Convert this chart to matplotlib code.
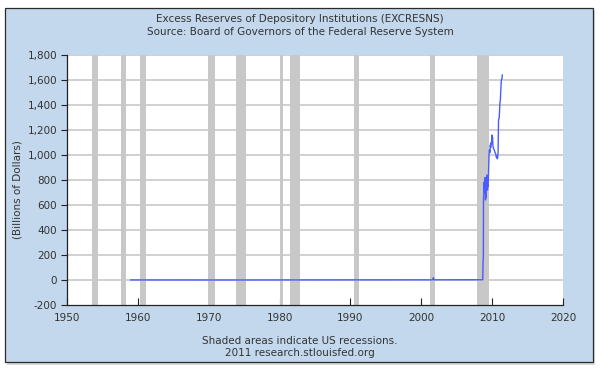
import numpy as np
import matplotlib
matplotlib.use('Agg')
import matplotlib.pyplot as plt
from matplotlib.patches import Rectangle
from matplotlib.ticker import FuncFormatter

# excess reserves, billions of dollars (decimal year, value)
years = [1959.0, 1962.0, 1966.0, 1970.0, 1975.0, 1980.0, 1985.0, 1990.0, 1995.0,
         2000.0, 2001.6, 2001.7, 2001.8, 2005.0, 2008.68,
         2008.72, 2008.76, 2008.78, 2008.82, 2008.86, 2008.90, 2008.94, 2008.98,
         2009.02, 2009.06, 2009.10, 2009.14, 2009.18, 2009.22, 2009.26, 2009.30,
         2009.34, 2009.38, 2009.42, 2009.46, 2009.50, 2009.56, 2009.62, 2009.68,
         2009.74, 2009.80, 2009.86, 2009.92, 2009.98, 2010.02, 2010.06, 2010.10,
         2010.20, 2010.30, 2010.40, 2010.50, 2010.60, 2010.66, 2010.72, 2010.78,
         2010.84, 2010.90, 2011.00, 2011.10, 2011.16, 2011.24, 2011.30, 2011.38,
         2011.44]
reserves = [0.5, 0.4, 0.3, 0.2, 0.2, 0.4, 0.8, 1.0, 1.1,
            1.2, 1.1, 19.0, 1.5, 1.7, 2.0,
            165, 170, 660, 680, 780, 700, 800, 760,
            820, 640, 700, 660, 780, 760, 840, 800,
            720, 760, 750, 800, 880, 1000, 1040, 1020,
            1080, 1060, 1100, 1090, 1160, 1120, 1140, 1080,
            1050, 1040, 1020, 1010, 980, 990, 970, 980,
            1020, 1280, 1300, 1420, 1440, 1540, 1600, 1610,
            1640]

# NBER recessions (start, end)
rec_start = [1953.5, 1957.6, 1960.3, 1969.9, 1973.9, 1980.0, 1981.5, 1990.5, 2001.2, 2007.9]
rec_end = [1954.4, 1958.3, 1961.1, 1970.9, 1975.2, 1980.5, 1982.9, 1991.2, 2001.9, 2009.5]

xticks = list(range(1950, 2021, 10))
yticks = list(range(-200, 1801, 200))

txt = '#333333'
fs = 7.5
W, H = 600, 375
fig = plt.figure(figsize=(6, 3.75), dpi=100)
fig.patch.set_facecolor('white')

# shadow + light blue panel, behind the axes
fig.patches.append(Rectangle((7 / W, 1 - 365 / H), 588 / W, 354 / H, transform=fig.transFigure,
                             facecolor='#d8d8d8', edgecolor='none', zorder=-2))
fig.patches.append(Rectangle((5 / W, 1 - 362 / H), 588 / W, 354 / H, transform=fig.transFigure,
                             facecolor='#c3d8ec', edgecolor='#2a2a2a', lw=0.9, zorder=-1))

ax = fig.add_axes([67 / W, 1 - 305 / H, 496 / W, 250 / H])
ax.set_facecolor('white')

for s, e in zip(rec_start, rec_end):
    ax.axvspan(s, e, color='#c8c8c8', lw=0, zorder=2)
for yv in yticks[1:]:
    ax.axhline(yv, color='#cdcdcd', lw=1.3, zorder=1)

ax.plot(years, reserves, color='#4a5cff', lw=1.0, zorder=3)

ax.set_xlim(1950, 2020)
ax.set_ylim(-200, 1800)
ax.set_xticks(xticks)
ax.set_yticks(yticks)
ax.yaxis.set_major_formatter(FuncFormatter(lambda v, p: '{:,}'.format(int(v))))
ax.tick_params(axis='x', direction='in', length=5, width=0.8, colors='#222222', labelcolor=txt,
               labelsize=fs, pad=6)
ax.tick_params(axis='y', direction='out', length=4, width=0.8, colors='#222222', labelcolor=txt,
               labelsize=fs, pad=3)
for sp in ['top', 'right']:
    ax.spines[sp].set_visible(False)
for sp in ['left', 'bottom']:
    ax.spines[sp].set_color('#222222')
    ax.spines[sp].set_linewidth(0.9)

fig.text(0.5, 1 - 19 / H, 'Excess Reserves of Depository Institutions (EXCRESNS)', ha='center',
         va='center', fontsize=fs, color=txt)
fig.text(0.5, 1 - 32 / H, 'Source: Board of Governors of the Federal Reserve System', ha='center',
         va='center', fontsize=fs, color=txt)
fig.text(18 / W, 1 - 190 / H, '(Billions of Dollars)', rotation=90, ha='center', va='center',
         fontsize=fs, color=txt)
fig.text(0.5, 1 - 341 / H, 'Shaded areas indicate US recessions.', ha='center', va='center',
         fontsize=fs, color=txt)
fig.text(0.5, 1 - 353 / H, '2011 research.stlouisfed.org', ha='center', va='center',
         fontsize=fs, color=txt)

fig.savefig('out.png', dpi=100)
